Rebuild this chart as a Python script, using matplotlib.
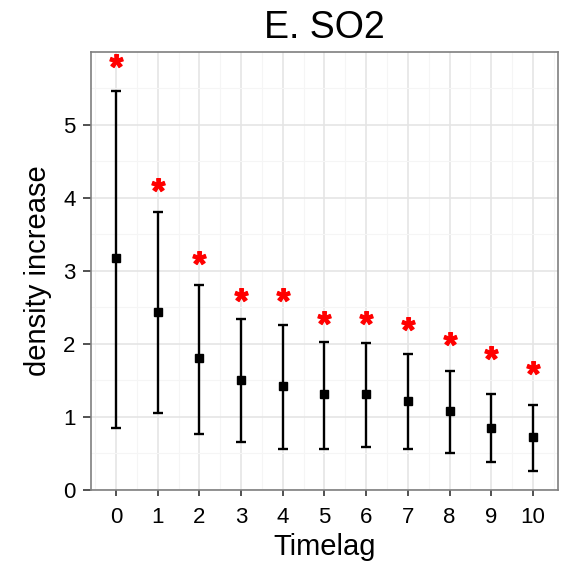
import matplotlib
matplotlib.use("Agg")
import numpy as np
import matplotlib.pyplot as plt
from matplotlib.textpath import TextPath
from matplotlib.font_manager import FontProperties
from matplotlib.path import Path
from matplotlib.ticker import MultipleLocator

plt.rcParams['font.family'] = ['Liberation Sans', 'DejaVu Sans']

# values
timelag = [0, 1, 2, 3, 4, 5, 6, 7, 8, 9, 10]
estimate = [3.17, 2.43, 1.80, 1.50, 1.42, 1.32, 1.31, 1.22, 1.08, 0.85, 0.72]
upper = [5.46, 3.81, 2.81, 2.34, 2.26, 2.03, 2.01, 1.86, 1.63, 1.31, 1.16]
lower = [0.85, 1.06, 0.76, 0.66, 0.56, 0.56, 0.59, 0.56, 0.51, 0.38, 0.26]
star_y = [5.80, 4.11, 3.11, 2.60, 2.60, 2.29, 2.29, 2.20, 2.00, 1.80, 1.60]

est = np.array(estimate)
yerr = [est - np.array(lower), np.array(upper) - est]

# asterisk glyph as a centred marker
tp = TextPath((0, 0), "*", prop=FontProperties(family="Liberation Sans", weight="bold"), size=1)
v = tp.vertices.copy()
v -= (v.min(axis=0) + v.max(axis=0)) / 2
star = Path(v, tp.codes)

fig = plt.figure(figsize=(5.67, 5.67), dpi=100)
ax = fig.add_axes([0.1605, 0.1358, 0.8235, 0.7722])

ax.errorbar(timelag, estimate, yerr=yerr, fmt='s', color='black', ms=6,
            elinewidth=1.7, capsize=3.6, capthick=1.7, zorder=3)
ax.plot(timelag, star_y, linestyle='none', marker=star, ms=17, color='#ff0000',
        zorder=4)

ax.set_xlim(-0.6, 10.6)
ax.set_ylim(0, 5.99)
ax.set_xticks(timelag)
ax.set_yticks([0, 1, 2, 3, 4, 5])
ax.xaxis.set_minor_locator(MultipleLocator(0.5))
ax.yaxis.set_minor_locator(MultipleLocator(0.5))
ax.grid(which='major', color='#e5e5e5', linewidth=1.2, zorder=0)
ax.grid(which='minor', color='#f5f5f5', linewidth=0.8, zorder=0)
ax.set_axisbelow(True)
ax.tick_params(which='minor', length=0)
ax.tick_params(which='major', width=1.2, color='#333333',
               labelsize=16, labelcolor='black')
ax.tick_params(axis='x', length=4.5, pad=8)
ax.tick_params(axis='y', length=6, pad=5)
for s in ax.spines.values():
    s.set_color('#7f7f7f')
    s.set_linewidth(1.2)

ax.set_title("E. SO2", fontsize=27, pad=10)
ax.set_xlabel("Timelag", fontsize=21, labelpad=3)
ax.set_ylabel("density increase", fontsize=21, labelpad=8)

fig.savefig("out.png", dpi=100)
